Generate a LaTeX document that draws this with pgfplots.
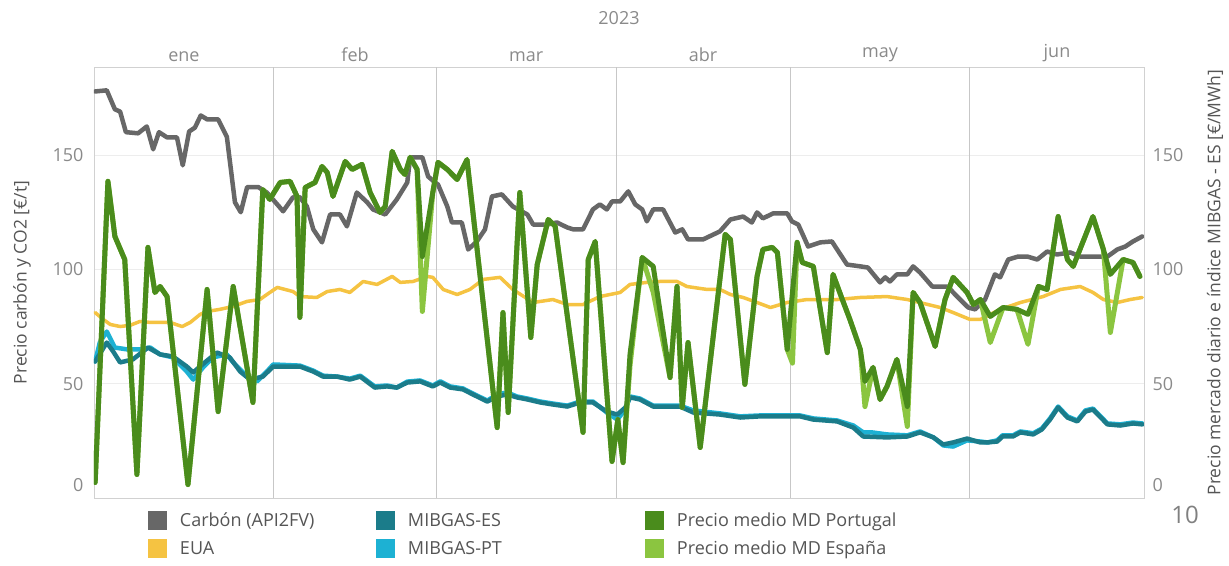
\documentclass[border=0pt]{standalone}
\usepackage{fontspec}
\setmainfont{Open Sans}
\usepackage{pgfplots}
\pgfplotsset{compat=1.18}
\definecolor{cCarbon}{HTML}{676767}
\definecolor{cEUA}{HTML}{F5C342}
\definecolor{cTeal}{HTML}{1B7C8A}
\definecolor{cCyan}{HTML}{1DB1D3}
\definecolor{cDG}{HTML}{4A8C1C}
\definecolor{cLG}{HTML}{8BC540}
\definecolor{tickgray}{HTML}{8A8A8A}
\definecolor{labgray}{HTML}{555555}
\newcommand{\fs}{\fontsize{18pt}{21pt}\selectfont}
\newcommand{\fl}{\fontsize{17.5pt}{21pt}\selectfont}
\pgfplotsset{
  base/.style={
    at={(0,0)}, anchor=south west, scale only axis,
    width=1050pt, height=431pt,
    xmin=0, xmax=181, ymin=0, ymax=188.5,
    major tick length=0pt,
    /pgf/number format/assume math mode=true,
    tick label style={font=\fs, text=tickgray},
    label style={font=\fl, text=labgray},
    axis line style={draw=black!18, line width=0.8pt},
    ytick={50,100,150},
    extra y ticks={0},
    extra y tick style={ymajorgrids=false, yticklabel style={yshift=13pt}},
  }
}
\begin{document}
\begin{tikzpicture}
\useasboundingbox (-94pt,-67pt) rectangle (1135pt,498pt);
\begin{axis}[base,
  ymajorgrids, major grid style={draw=black!7, line width=0.8pt},
  xtick={15.5,45,74.5,105,135.5,166},
  xticklabels={ene,feb,mar,abr,may,jun},
  xticklabel pos=right,
  xticklabel style={yshift=2pt},
  xmajorgrids=false,
  extra x ticks={31,59,90,120,151},
  extra x tick labels={},
  extra x tick style={xmajorgrids=true, major grid style={draw=black!22, line width=1pt}},
  yticklabel style={xshift=-7pt},
  ylabel={Precio carbón y CO2 [€/t]},
  ylabel style={at={(axis description cs:-0.0686,0.5)}, anchor=center},
  title={2023},
  title style={at={(axis description cs:0.5,1)}, anchor=center, yshift=43pt, font=\fs, text=tickgray},
  legend columns=3,
  legend cell align=left,
  legend image code/.code={\fill[#1,draw=none] (0pt,-9.5pt) rectangle (19pt,9.5pt);},
  legend style={at={(axis description cs:0,0)}, anchor=north west, xshift=54pt, yshift=-13pt,
    draw=none, fill=none, inner sep=0pt, outer sep=0pt, row sep=9pt,
    font=\fs, text=labgray,
    nodes={inner sep=0pt},
    /tikz/every odd column/.append style={column sep=13pt}},
  every axis plot/.append style={line join=round, line cap=round},
]
% EUA
\addplot[cEUA, line width=3.5pt, forget plot] coordinates {
(0.2,81.1)(1.6,78.1)(2.8,75.9)(4.5,75.0)(6.2,75.5)(7.9,77.2)(9.7,76.8)(13.1,76.8)(15.2,75.0)(16.6,76.8)(18.3,80.3)(19.5,81.6)(21.7,82.5)(24.0,83.8)(26.4,86.0)(28.6,86.8)(29.8,89.0)(31.6,92.1)(34.3,90.3)(35.5,88.1)(38.4,87.7)(40.2,90.3)(42.4,91.2)(44.1,89.9)(46.4,94.7)(48.8,93.4)(51.4,96.9)(52.8,94.3)(55.0,94.7)(57.4,96.9)(58.4,96.5)(60.2,91.2)(62.6,89.0)(64.8,91.2)(67.1,95.6)(70.0,96.5)(72.2,91.2)(75.7,85.5)(79.1,86.8)(81.6,84.6)(84.3,84.6)(87.2,88.1)(90.7,89.9)(92.4,93.4)(95.3,94.3)(97.6,94.7)(100.5,94.7)(102.2,92.5)(105.7,91.2)(107.9,91.2)(109.7,89.0)(111.9,87.7)(114.3,85.5)(116.6,83.3)(119.5,85.5)(122.9,86.8)(128.1,86.8)(132.1,87.7)(136.7,88.1)(140.2,86.8)(145.9,83.3)(148.1,81.1)(151.0,78.1)(152.8,78.1)(156.2,82.5)(159.7,85.5)(163.6,88.1)(166.6,91.2)(170.0,92.5)(172.2,89.9)(174.0,86.8)(176.4,85.5)(178.6,86.8)(180.7,87.7)
};
% Carbon
\addplot[cCarbon, line width=4.5pt, forget plot] coordinates {
(0.2,177.8)(2.2,178.3)(3.6,170)(4.5,169)(5.5,160)(7.6,159.5)(9.1,162.5)(10.2,152.5)(11.2,160)(12.6,157.7)(14.3,157.7)(15.3,145.5)(16.4,160.3)(17.4,162)(18.4,167.3)(19.5,165.6)(21.4,165.6)(22.9,158)(24.3,129.3)(25.3,125)(26.4,136)(28.3,136)(29.8,133.6)(31.9,127.5)(32.6,125.4)(34.3,131.5)(35.5,131.5)(36.7,127.5)(37.8,117.5)(39.3,111.8)(40.7,124)(42.4,124)(43.6,118.8)(45.3,133.6)(47.1,129.3)(48.1,126.2)(50.2,124)(52.2,130.6)(54.0,138)(54.5,149)(56.6,149)(57.6,140.6)(58.8,138)(59.3,137.1)(60.9,127.5)(61.7,120.5)(63.4,120.5)(64.5,108.7)(66.0,112.2)(67.4,117.5)(68.6,131.9)(70.3,132.8)(72.2,127.5)(74.7,124)(75.7,119.6)(78.1,119.6)(79.8,120.5)(81.6,118.3)(82.6,117.5)(84.3,117.5)(86.0,126.2)(87.2,128.4)(88.4,126.2)(89.3,129.7)(90.7,129.7)(92.1,134.1)(93.3,128.4)(94.5,126.2)(95.3,121)(96.4,126.2)(98.1,126.2)(100.2,116.1)(101.4,117.5)(102.4,113.1)(105.0,113.1)(107.9,116.6)(109.7,121.8)(111.9,123.1)(113.4,120.5)(114.3,124.9)(115.3,122.3)(117.1,124.5)(119.5,124.5)(120.3,121)(121.4,119.6)(123.1,110)(125.2,111.8)(127.2,112.2)(129.8,102.1)(132.1,101.3)(133.4,100.8)(135.5,94.3)(136.4,96.5)(137.2,94.7)(138.4,97.8)(140.2,97.8)(141.2,101.3)(142.4,98.6)(144.5,92.5)(147.2,92.5)(148.1,89.9)(149.3,86.8)(150.7,83.3)(151.9,82.5)(153.6,86.8)(155.3,97.8)(156.2,96.5)(157.6,104.3)(159.3,105.6)(160.9,105.6)(162.6,104.3)(164.3,107.8)(166.0,106.5)(168.3,107.4)(170.0,105.6)(174.7,105.6)(176.4,108.7)(177.8,110)(179.1,112.2)(180.7,114.4)
};
% MIBGAS-PT
\addplot[cCyan, line width=4.5pt, forget plot] coordinates {
(0.2,59.7)(1.0,68.0)(2.2,72.8)(3.6,65.8)(5.7,65.0)(7.9,65.0)(9.7,65.8)(11.4,62.8)(13.6,61.5)(16.0,55.3)(17.1,51.8)(18.8,57.1)(20.5,61.5)(22.9,62.8)(24.0,59.3)(26.4,53.1)(28.1,51.0)(29.8,55.3)(30.9,58.4)(35.5,57.9)(37.8,55.7)(39.5,53.5)(41.9,53.1)(44.1,52.2)(45.9,53.5)(48.4,48.8)(50.5,49.2)(52.2,48.3)(54.0,50.9)(56.2,51.4)(58.4,49.2)(59.7,51.0)(61.4,48.8)(63.6,47.9)(65.3,45.7)(67.8,42.6)(69.5,45.3)(71.2,46.2)(72.9,44.4)(74.7,43.5)(76.9,42.2)(79.1,41.3)(81.6,40.4)(83.8,42.2)(86.0,42.2)(88.4,37.4)(90.2,34.3)(91.6,38.7)(92.4,44.4)(94.1,43.5)(96.4,40.4)(101.0,40.4)(103.3,38.3)(107.9,37.0)(111.4,35.7)(114.8,36.1)(119.5,36.1)(121.7,36.1)(124.0,34.8)(128.1,33.9)(130.9,31.7)(132.6,28.7)(134.1,28.7)(136.7,27.8)(140.2,27.4)(142.4,29.1)(144.7,26.5)(146.4,23.0)(148.1,22.5)(150.5,25.2)(152.8,24.7)(154.0,24.3)(155.7,25.2)(156.6,27.4)(158.4,27.4)(159.7,29.1)(161.9,28.3)(163.4,30.4)(164.8,34.8)(166.2,40.0)(167.8,35.7)(169.5,33.9)(170.9,38.3)(172.2,39.1)(174.7,32.6)(176.9,32.2)(179.1,33.0)(180.7,32.6)
};
% MIBGAS-ES
\addplot[cTeal, line width=4.5pt, forget plot] coordinates {
(0.2,59.7)(2.2,68.0)(3.3,64.1)(4.5,59.3)(6.7,60.6)(9.3,65.8)(11.4,62.8)(13.6,61.9)(16.0,57.5)(17.1,54.9)(19.1,59.3)(21.2,63.6)(23.4,61.5)(25.2,55.3)(26.9,51.8)(29.1,53.1)(30.9,57.5)(35.5,57.5)(37.8,55.3)(39.5,53.1)(41.9,53.1)(44.1,51.8)(45.9,53.1)(48.4,48.3)(50.5,48.8)(52.2,48.3)(54.0,50.5)(56.2,51.0)(58.4,48.8)(59.7,50.5)(61.4,48.3)(63.6,47.5)(65.3,45.3)(67.8,42.2)(69.5,44.4)(71.2,45.3)(72.9,44.0)(74.7,43.1)(76.9,41.8)(79.1,40.9)(81.6,40.0)(83.8,41.8)(86.0,41.8)(88.4,37.8)(90.2,36.5)(91.6,39.6)(92.4,44.0)(94.1,43.1)(96.4,40.0)(101.0,40.0)(103.3,37.4)(107.9,36.5)(111.4,35.2)(114.8,35.7)(119.5,35.7)(121.7,35.7)(124.0,34.3)(128.1,33.5)(130.9,30.8)(132.6,26.9)(136.7,26.5)(140.2,26.9)(142.4,28.7)(144.7,26.5)(146.4,23.4)(148.1,24.3)(150.5,26.0)(152.8,24.3)(154.0,24.3)(155.7,24.7)(156.6,26.9)(158.4,26.9)(159.7,28.7)(161.9,27.8)(163.4,30.0)(164.8,34.3)(166.2,39.6)(167.8,35.2)(169.5,33.5)(170.9,37.8)(172.2,38.7)(174.7,32.2)(176.9,31.7)(179.1,32.6)(180.7,32.2)
};
% Precio medio MD Espana
\addplot[cLG, line width=5pt, forget plot] coordinates {
(0.2,6.8)(2.4,138.5)(3.6,114.4)(5.3,104.3)(7.4,10.3)(9.3,109.6)(10.5,89.9)(11.4,92.5)(12.6,88.1)(16.2,5.9)(19.5,91.2)(21.4,37.8)(24.0,92.5)(27.4,41.8)(29.1,134.9)(30.3,130.6)(32.1,138.0)(33.8,138.5)(35.0,131.9)(35.5,79.0)(36.4,135.8)(38.1,138.0)(39.3,145.0)(40.2,142.4)(41.2,131.9)(43.3,147.2)(44.5,143.7)(46.2,145.9)(47.6,133.6)(49.3,124.9)(50.2,127.5)(51.4,151.6)(52.8,143.7)(53.6,141.5)(54.5,149.0)(55.7,143.7)(56.6,81.6)(58.4,133.6)(59.3,146.8)(60.9,143.7)(62.6,139.3)(64.3,148.0)(69.5,30.8)(70.5,81.1)(71.4,37.4)(73.4,133.6)(75.3,70.2)(76.4,102.1)(78.3,121.8)(79.5,118.8)(84.3,28.7)(85.2,104.3)(86.4,112.2)(89.3,16.0)(90.3,34.3)(91.2,15.5)(92.4,58.0)(94.5,105.2)(96.4,90.0)(99.3,52.7)(100.5,92.5)(101.4,39.6)(102.4,68.0)(104.5,22.1)(108.8,115.3)(109.7,113.1)(112.2,49.7)(114.3,96.9)(115.3,108.7)(116.9,109.6)(117.8,107.4)(119.5,65.0)(120.4,59.0)(121.2,111.8)(122.1,103.0)(124.0,101.3)(126.4,63.6)(127.4,97.8)(129.0,86.8)(130.3,78.1)(132.1,65.0)(132.9,40.0)(134.3,57.1)(135.5,43.1)(136.7,48.8)(138.4,60.6)(140.2,31.3)(141.2,89.9)(142.4,85.5)(145.0,66.3)(146.7,86.8)(148.1,96.5)(150.5,89.9)(151.6,84.6)(152.8,86.8)(154.5,68.0)(156.7,83.3)(159.1,82.5)(161.0,67.2)(162.8,92.5)(164.3,91.2)(166.2,123.1)(167.8,104.3)(168.8,101.3)(172.2,123.1)(174.0,108.7)(175.2,72.4)(177.4,104.3)(179.1,103.0)(180.3,96.9)
};
% Precio medio MD Portugal
\addplot[cDG, line width=5pt, forget plot] coordinates {
(0.2,6.8)(2.4,138.5)(3.6,114.4)(5.3,104.3)(7.4,10.3)(9.3,109.6)(10.5,89.9)(11.4,92.5)(12.6,88.1)(16.2,5.9)(19.5,91.2)(21.4,37.8)(24.0,92.5)(27.4,41.8)(29.1,134.9)(30.3,130.6)(32.1,138.0)(33.8,138.5)(35.0,131.9)(35.5,79.0)(36.4,135.8)(38.1,138.0)(39.3,145.0)(40.2,142.4)(41.2,131.9)(43.3,147.2)(44.5,143.7)(46.2,145.9)(47.6,133.6)(49.3,124.9)(50.2,127.5)(51.4,151.6)(52.8,143.7)(53.6,141.5)(54.5,149.0)(55.7,143.7)(56.6,105.6)(58.4,133.6)(59.3,146.8)(60.9,143.7)(62.6,139.3)(64.3,148.0)(69.5,30.8)(70.5,81.1)(71.4,37.4)(73.4,133.6)(75.3,70.2)(76.4,102.1)(78.3,121.8)(79.5,118.8)(84.3,28.7)(85.2,104.3)(86.4,112.2)(89.3,16.0)(90.3,34.3)(91.2,15.5)(92.4,62.8)(94.5,105.2)(96.4,101.3)(99.3,52.7)(100.5,92.5)(101.4,39.6)(102.4,68.0)(104.5,22.1)(108.8,115.3)(109.7,113.1)(112.2,49.7)(114.3,96.9)(115.3,108.7)(116.9,109.6)(117.8,107.4)(119.5,65.0)(121.2,111.8)(122.1,103.0)(124.0,101.3)(126.4,63.6)(127.4,97.8)(129.0,86.8)(130.3,78.1)(132.1,65.0)(132.9,51.0)(134.3,57.1)(135.5,43.1)(136.7,48.8)(138.4,60.6)(140.2,40.0)(141.2,89.9)(142.4,85.5)(145.0,66.3)(146.7,86.8)(148.1,96.5)(150.5,89.9)(151.6,84.6)(152.8,86.8)(154.5,79.4)(156.7,83.3)(159.1,82.5)(161.0,80.3)(162.8,92.5)(164.3,91.2)(166.2,123.1)(167.8,104.3)(168.8,101.3)(172.2,123.1)(174.0,108.7)(175.2,97.8)(177.4,104.3)(179.1,103.0)(180.3,96.9)
};
\addlegendimage{fill=cCarbon}\addlegendentry{\makebox[196pt][l]{Carbón (API2FV)}}
\addlegendimage{fill=cTeal}\addlegendentry{\makebox[237pt][l]{MIBGAS-ES}}
\addlegendimage{fill=cDG}\addlegendentry{Precio medio MD Portugal}
\addlegendimage{fill=cEUA}\addlegendentry{\makebox[196pt][l]{EUA}}
\addlegendimage{fill=cCyan}\addlegendentry{\makebox[237pt][l]{MIBGAS-PT}}
\addlegendimage{fill=cLG}\addlegendentry{Precio medio MD España}
\end{axis}
\begin{axis}[base,
  axis y line*=right, axis x line=none,
  yticklabel style={xshift=5pt},
  ylabel={Precio mercado diario e índice MIBGAS - ES [€/MWh]},
  ylabel style={at={(axis description cs:1.0676,0.5)}, anchor=center},
]
\end{axis}
\node[font=\fontsize{24pt}{28pt}\selectfont, text=black!50] at (1091pt,-17pt) {10};
\end{tikzpicture}
\end{document}
